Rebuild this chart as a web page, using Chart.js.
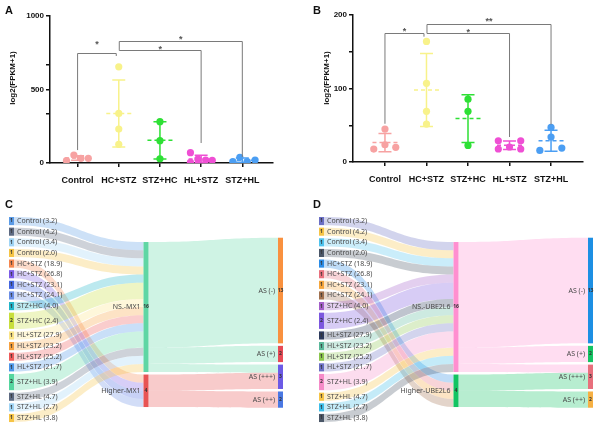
<!DOCTYPE html>
<html>
<head>
<meta charset="utf-8">
<script src="https://cdn.jsdelivr.net/npm/chart.js@4.4.1/dist/chart.umd.min.js"></script>
<style>
    html, body { margin: 0; padding: 0; background: #fff; }
    #wrap { position: relative; width: 600px; height: 427px; overflow: hidden; }
    .pane { position: absolute; }
    .tag { position: absolute; font: bold 11px "Liberation Sans", Arial, sans-serif; color: #111; line-height: 11px; }
</style>
</head>
<body>
<div id="wrap">
    <canvas class="pane" id="chartA" width="300" height="200" style="left:0;top:0"></canvas>
    <canvas class="pane" id="chartB" width="300" height="200" style="left:300px;top:0"></canvas>
    <canvas class="pane" id="chartC" width="300" height="232" style="left:0;top:195px"></canvas>
    <canvas class="pane" id="chartD" width="300" height="232" style="left:300px;top:195px"></canvas>
    <div class="tag" style="left:5px;top:5px">A</div>
    <div class="tag" style="left:313px;top:5px">B</div>
    <div class="tag" style="left:5px;top:199px">C</div>
    <div class="tag" style="left:313px;top:199px">D</div>
</div>
<script>
// groups shared by both dot plots
const groups = ['Control', 'HC+STZ', 'STZ+HC', 'HL+STZ', 'STZ+HL'];

// MX1 expression, log2(FPKM+1)
const mx1Control = [16, 54, 32, 32];
const mx1HcStz = [654, 337, 231, 127];
const mx1StzHc = [281, 152, 29];
const mx1HlStz = [70, 5, 27, 20, 18];
const mx1StzHl = [9, 39, 9, 20];

// UBE2L6 expression, log2(FPKM+1)
const ube2l6Control = [44.8, 23.5, 17.6, 19.9];
const ube2l6HcStz = [164, 107, 69, 51.6];
const ube2l6StzHc = [85.5, 69, 22.6];
const ube2l6HlStz = [28.9, 17.7, 20.4, 28.9, 17.7];
const ube2l6StzHl = [15.8, 47, 34, 19];

// sankey: samples -> expression class -> AS grade
const sampleNames = ['Control (3.2)', 'Control (4.2)', 'Control (3.4)', 'Control (2.0)',
    'HC+STZ (18.9)', 'HC+STZ (26.8)', 'HC+STZ (23.1)', 'HC+STZ (24.1)',
    'STZ+HC (4.0)', 'STZ+HC (2.4)',
    'HL+STZ (27.9)', 'HL+STZ (23.2)', 'HL+STZ (25.2)', 'HL+STZ (21.7)',
    'STZ+HL (3.9)', 'STZ+HL (4.7)', 'STZ+HL (2.7)', 'STZ+HL (3.8)'];
const sampleCounts = [1, 1, 1, 1, 1, 1, 1, 1, 1, 2, 1, 1, 1, 1, 2, 1, 1, 1];
const mx1Class = [0, 0, 0, 0, 1, 1, 1, 1, 0, 0, 0, 0, 0, 0, 0, 0, 0, 0];
const ube2l6Class = [0, 0, 0, 0, 1, 1, 1, 1, 0, 0, 0, 0, 0, 0, 0, 0, 0, 0];
const mx1ClassNames = ['NS.-MX1', 'Higher-MX1'];
const ube2l6ClassNames = ['NS.-UBE2L6', 'Higher-UBE2L6'];
const asNames = ['AS (-)', 'AS (+)', 'AS (+++)', 'AS (++)'];
// [class, AS grade, count]
const mx1ToAs = [[0, 0, 13], [0, 1, 2], [0, 2, 1], [1, 2, 2], [1, 3, 2]];
const ube2l6ToAs = [[0, 0, 13], [0, 1, 2], [0, 2, 1], [1, 2, 2], [1, 3, 2]];

// significance brackets (value space)
const mx1Brackets = [
    {from: 0, to: 1, top: 746, fromEnd: 88, toEnd: 728, text: '*', textY: 825},
    {from: 1, to: 4, top: 830, fromEnd: 769, toEnd: 41, text: '*', textY: 857},
    {from: 1, to: 3, top: 769, fromEnd: 769, toEnd: 136, text: '*', textY: 790}
];
const ube2l6Brackets = [
    {from: 0, to: 1, top: 175, fromEnd: 52, toEnd: 170.5, text: '*', textY: 181},
    {from: 1, to: 4, top: 187.8, fromEnd: 175, toEnd: 51, text: '**', textY: 194},
    {from: 1, to: 3, top: 175, fromEnd: 175, toEnd: 34, text: '*', textY: 179}
];

const FONT = '"Liberation Sans", Arial, sans-serif';
const SANS = '"Noto Sans", sans-serif';
const groupColors = ['#f7a2a2', '#f8f28a', '#2ee035', '#ef4fd4', '#4b9ef3'];

// horizontal spread of overlapping dots (category units)
const spreadA = [[-0.27, -0.09, 0.08, 0.26], [0, 0, 0, 0], [0, 0, 0],
    [-0.26, -0.26, -0.08, 0.11, 0.27], [-0.23, -0.06, 0.12, 0.31]];
const spreadB = [[0, 0, -0.27, 0.26], [0, 0, 0, 0], [0, 0, 0],
    [-0.27, -0.27, 0, 0.27, 0.27], [-0.27, 0, 0, 0.26]];

function meanSd(vals) {
    const m = vals.reduce((a, b) => a + b, 0) / vals.length;
    const v = vals.reduce((a, b) => a + (b - m) * (b - m), 0) / (vals.length - 1);
    return [m, Math.sqrt(v)];
}

function dotPlot(id, series, spread, brackets, o) {
    const extras = {
        id: 'extras' + id,
        beforeDatasetsDraw(chart) {
            const {ctx, scales: {x, y}} = chart;
            ctx.save();
            ctx.lineWidth = 1.5;
            series.forEach((vals, gi) => {
                const [m, sd] = meanSd(vals);
                const cx = x.getPixelForValue(gi);
                const yt = y.getPixelForValue(m + sd);
                const yb = y.getPixelForValue(Math.max(0, m - sd));
                const ym = y.getPixelForValue(m);
                ctx.strokeStyle = groupColors[gi];
                ctx.setLineDash([]);
                ctx.beginPath();
                ctx.moveTo(cx, yt); ctx.lineTo(cx, yb);
                ctx.moveTo(cx - 6.5, yt); ctx.lineTo(cx + 6.5, yt);
                ctx.moveTo(cx - 6.5, yb); ctx.lineTo(cx + 6.5, yb);
                ctx.stroke();
                ctx.setLineDash([4, 3]);
                ctx.beginPath();
                ctx.moveTo(cx - 12.5, ym); ctx.lineTo(cx + 12.5, ym);
                ctx.stroke();
            });
            ctx.restore();
        },
        afterDraw(chart) {
            const {ctx, scales: {x, y}} = chart;
            ctx.save();
            ctx.strokeStyle = '#7a7a7a';
            ctx.lineWidth = 1;
            brackets.forEach((b, k) => {
                const x0 = x.getPixelForValue(b.from) + (k === 0 ? 0 : 0.5);
                const x1 = x.getPixelForValue(b.to) + (k === 0 ? -2.5 : 0);
                const yt = Math.round(y.getPixelForValue(b.top)) + 0.5;
                ctx.beginPath();
                ctx.moveTo(x0, y.getPixelForValue(b.fromEnd));
                ctx.lineTo(x0, yt);
                ctx.lineTo(x1, yt);
                ctx.lineTo(x1, y.getPixelForValue(b.toEnd));
                ctx.stroke();
                ctx.fillStyle = '#555';
                ctx.font = 'bold 9px ' + FONT;
                ctx.textAlign = 'center';
                ctx.textBaseline = 'alphabetic';
                ctx.fillText(b.text, (x0 + x1) / 2, y.getPixelForValue(b.textY) + 5);
            });
            // y axis title
            ctx.translate(o.titleX, o.titleY);
            ctx.rotate(-Math.PI / 2);
            ctx.fillStyle = '#111';
            ctx.font = 'bold 8px ' + FONT;
            ctx.textAlign = 'center';
            ctx.textBaseline = 'middle';
            ctx.fillText('log2(FPKM+1)', 0, 0);
            ctx.restore();
        }
    };

    const datasets = series.map((vals, gi) => ({
        data: vals.map((v, k) => ({x: gi + spread[gi][k], y: v})),
        backgroundColor: groupColors[gi],
        borderWidth: 0,
        pointRadius: 3.6,
        pointHoverRadius: 3.6
    }));

    return new Chart(document.getElementById(id), {
        type: 'scatter',
        data: {datasets},
        options: {
            responsive: false,
            animation: false,
            events: [],
            layout: {padding: {top: o.top, right: o.right, left: 0, bottom: 0}},
            plugins: {legend: {display: false}, tooltip: {enabled: false}},
            scales: {
                x: {
                    type: 'linear', min: o.xMin, max: o.xMax,
                    afterBuildTicks: s => { s.ticks = groups.map((g, i) => ({value: i})); },
                    afterFit: s => { s.height = o.xH; },
                    ticks: {
                        callback: v => groups[v], color: '#111', padding: 8,
                        maxRotation: 0, autoSkip: false,
                        font: {family: FONT, size: 9, weight: 'bold'}
                    },
                    grid: {drawOnChartArea: false, tickLength: 4, color: '#111', lineWidth: 1.5},
                    border: {color: '#111', width: 1.5}
                },
                y: {
                    min: 0, max: o.yMax,
                    afterBuildTicks: s => { s.ticks = o.yTicks.map(v => ({value: v})); },
                    afterFit: s => { s.width = o.yW; },
                    ticks: {
                        callback: v => o.yLabels.includes(v) ? String(v) : '',
                        color: '#111', padding: 2, autoSkip: false,
                        font: {family: FONT, size: 8, weight: 'bold'}
                    },
                    grid: {drawOnChartArea: false, tickLength: 4, color: '#111', lineWidth: 1.5},
                    border: {color: '#111', width: 1.5}
                }
            }
        },
        plugins: [extras]
    });
}

dotPlot('chartA', [mx1Control, mx1HcStz, mx1StzHc, mx1HlStz, mx1StzHl], spreadA, mx1Brackets, {
    top: 16, right: 27, xH: 37, yW: 50, xMin: -0.67, xMax: 4.745, yMax: 1000,
    yTicks: [0, 333, 500, 667, 1000], yLabels: [0, 500, 1000], titleX: 13, titleY: 78
});
dotPlot('chartB', [ube2l6Control, ube2l6HcStz, ube2l6StzHc, ube2l6HlStz, ube2l6StzHl], spreadB, ube2l6Brackets, {
    top: 15, right: 17, xH: 38, yW: 53, xMin: -0.77, xMax: 4.77, yMax: 200,
    yTicks: [0, 50, 100, 150, 200], yLabels: [0, 100, 200], titleX: 27, titleY: 78
});

function hexA(hex, a) {
    const n = parseInt(hex.slice(1), 16);
    return `rgba(${n >> 16 & 255},${n >> 8 & 255},${n & 255},${a})`;
}

function sankey(id, classOf, classNames, classToAs, colors, pad) {
    const colStart = [0, 3.08, 2.55];
    const gap = 0.308;
    const nodeW = 5;
    const nodes = [];
    sampleNames.forEach((n, i) => nodes.push({col: 0, name: n, color: colors.left[i]}));
    classNames.forEach((n, i) => nodes.push({col: 1, name: n, color: colors.mid[i]}));
    asNames.forEach((n, i) => nodes.push({col: 2, name: n, color: colors.right[i]}));
    const nL = sampleNames.length, nM = classNames.length;
    const links = [];
    sampleNames.forEach((n, i) => links.push({s: i, t: nL + classOf[i], v: sampleCounts[i]}));
    classToAs.forEach(([a, b, v]) => links.push({s: nL + a, t: nL + nM + b, v}));

    nodes.forEach((nd, i) => {
        const out = links.filter(l => l.s === i).reduce((a, l) => a + l.v, 0);
        const inn = links.filter(l => l.t === i).reduce((a, l) => a + l.v, 0);
        nd.value = Math.max(out, inn);
    });
    [0, 1, 2].forEach(c => {
        let y = colStart[c];
        nodes.filter(nd => nd.col === c).forEach(nd => {
            nd.y0 = y; nd.y1 = y + nd.value; y = nd.y1 + gap;
        });
    });
    nodes.forEach((nd, i) => {
        let y = nd.y0;
        links.filter(l => l.s === i).sort((a, b) => nodes[a.t].y0 - nodes[b.t].y0)
            .forEach(l => { l.sy = y; y += l.v; });
        y = nd.y0;
        links.filter(l => l.t === i).sort((a, b) => nodes[a.s].y0 - nodes[b.s].y0)
            .forEach(l => { l.ty = y; y += l.v; });
    });

    const draw = {
        id: 'sankey' + id,
        afterDraw(chart) {
            const {ctx, scales: {x, y}} = chart;
            const left = c => x.getPixelForValue(c) - nodeW * c / 2;
            ctx.save();
            links.forEach(l => {
                const x0 = left(nodes[l.s].col) + nodeW;
                const x1 = left(nodes[l.t].col);
                const xm = (x0 + x1) / 2;
                const a0 = y.getPixelForValue(l.sy), a1 = y.getPixelForValue(l.sy + l.v);
                const b0 = y.getPixelForValue(l.ty), b1 = y.getPixelForValue(l.ty + l.v);
                ctx.fillStyle = hexA(nodes[l.s].color, 0.3);
                ctx.beginPath();
                ctx.moveTo(x0, a0);
                ctx.bezierCurveTo(xm, a0, xm, b0, x1, b0);
                ctx.lineTo(x1, b1);
                ctx.bezierCurveTo(xm, b1, xm, a1, x0, a1);
                ctx.closePath();
                ctx.fill();
            });
            nodes.forEach(nd => {
                const x0 = left(nd.col);
                const t = y.getPixelForValue(nd.y0), b = y.getPixelForValue(nd.y1);
                ctx.fillStyle = nd.color;
                ctx.fillRect(x0, t, nodeW, b - t);
                const cy = (t + b) / 2;
                ctx.fillStyle = '#333';
                ctx.font = 'bold 5px ' + SANS;
                ctx.textAlign = 'center';
                ctx.textBaseline = 'middle';
                ctx.fillText(String(nd.value), x0 + nodeW / 2, cy);
                ctx.fillStyle = '#4a4a4a';
                ctx.font = '7px ' + SANS;
                if (nd.col === 0) {
                    ctx.textAlign = 'left';
                    ctx.fillText(nd.name, x0 + nodeW + 3, cy);
                } else {
                    ctx.textAlign = 'right';
                    ctx.fillText(nd.name, x0 - 3, cy);
                }
            });
            ctx.restore();
        }
    };

    return new Chart(document.getElementById(id), {
        type: 'scatter',
        data: {datasets: []},
        options: {
            responsive: false,
            animation: false,
            events: [],
            layout: {padding: pad},
            plugins: {legend: {display: false}, tooltip: {enabled: false}},
            scales: {
                x: {type: 'linear', min: 0, max: 2, display: false},
                y: {type: 'linear', min: 0, max: 25.23, reverse: true, display: false}
            }
        },
        plugins: [draw]
    });
}

sankey('chartC', mx1Class, mx1ClassNames, mx1ToAs, {
    left: ['#5b9be6', '#5d6a82', '#9fd4f5', '#f6c446', '#f5874f', '#7c5ce6', '#4466e0', '#6b8ee6',
        '#22b5c9', '#c8de3c', '#fbe486', '#f7a13f', '#ee5a5a', '#4d96e8', '#55d69f', '#5d6a82', '#9fd4f5', '#f6c446'],
    mid: ['#5fd6a4', '#e85454'],
    right: ['#f9913f', '#e84a55', '#6c5ae6', '#4a78e3']
}, {left: 9, right: 17, top: 22, bottom: 5});

sankey('chartD', ube2l6Class, ube2l6ClassNames, ube2l6ToAs, {
    left: ['#6b6fc4', '#f6c446', '#4fc3ee', '#4a5667', '#2b8ce6', '#e8717e', '#f6a63c', '#a1714f',
        '#a35fc9', '#7c57de', '#2c3a5c', '#5ab89a', '#8cc64e', '#6b6fc4', '#f58bc8', '#f6c446', '#3dbde8', '#4a5667'],
    mid: ['#ff8fd0', '#12c462'],
    right: ['#1d8fe3', '#12c462', '#e86f7c', '#f6b043']
}, {left: 19, right: 7, top: 22, bottom: 5});
</script>
</body>
</html>
